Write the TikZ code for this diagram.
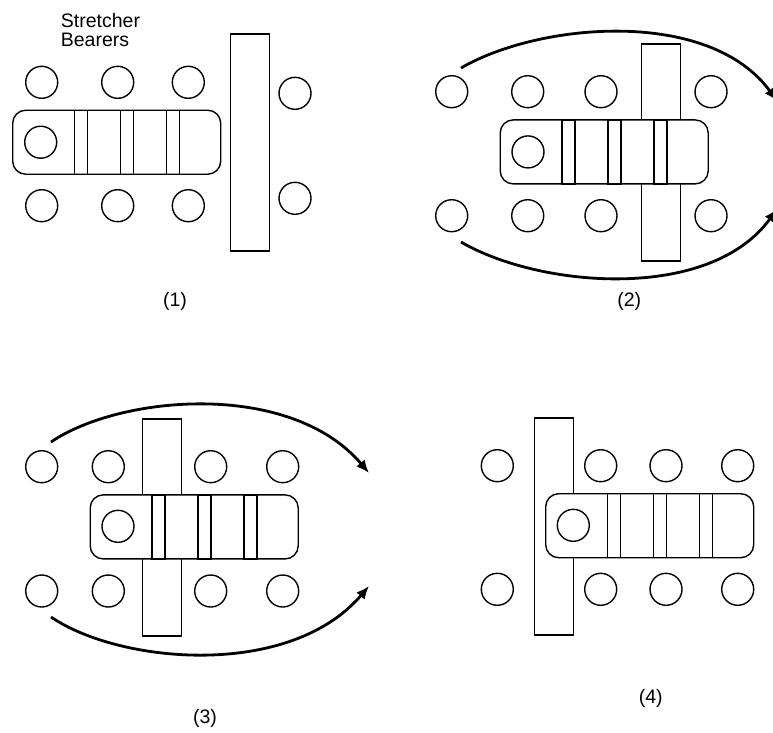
\documentclass[tikz,border=0pt]{standalone}
\usepackage{fontspec}
\setmainfont{Liberation Sans}
\usetikzlibrary{arrows.meta}

\begin{document}
\begin{tikzpicture}[x=1pt,y=-1pt,>=Latex,
  bearer/.style={draw,circle,line width=1.4pt,minimum size=32pt,inner sep=0pt,fill=white},
  litter/.style={draw,rounded corners=13pt,line width=1.4pt,minimum width=208pt,minimum height=64pt,inner sep=0pt,fill=white},
  band/.style={draw,line width=1.4pt,minimum width=13pt,minimum height=64pt,inner sep=0pt},
  board/.style={draw,line width=1.4pt,minimum width=39pt,minimum height=217pt,inner sep=0pt,fill=white},
  caption/.style={font=\fontsize{19.5}{19}\selectfont,inner sep=0pt},
  move/.style={line width=2.8pt,-{Latex[length=13pt,width=11pt]}}]
\clip (0,0) rectangle (773,732);
% (1)
\node[caption,anchor=north west,align=left] (sb) at (60.7,13.3) {Stretcher\\Bearers};
\node[board] (brd1) at (249.7,142.3) {};
\node[litter] (lit1) at (116.7,142.2) {};
\node[bearer] (lit1c) at (40.7,142.2) {};
\node[band] (lit1a) at (81.2,142.2) {};
\node[band] (lit1b) at (127.2,142.2) {};
\node[band] (lit1d) at (173.2,142.2) {};
\node[bearer] (b1t1) at (41.7,82.3) {};
\node[bearer] (b1t2) at (117.7,82.3) {};
\node[bearer] (b1t3) at (188.3,82.3) {};
\node[bearer] (b1b1) at (41.7,205.7) {};
\node[bearer] (b1b2) at (117.7,205.7) {};
\node[bearer] (b1b3) at (188.3,205.7) {};
\node[bearer] (b1r1) at (295,93.3) {};
\node[bearer] (b1r2) at (295,198.3) {};
\node[caption] (cap1) at (175,301.7) {(1)};
% (2)
\node[board] (brd2) at (661,152.3) {};
\node[litter] (lit2) at (604.2,151.9) {};
\node[bearer] (lit2c) at (528,151.9) {};
\node[band] (lit2a) at (568.5,151.9) {};
\node[band] (lit2b) at (614.5,151.9) {};
\node[band] (lit2d) at (660.5,151.9) {};
\node[bearer] (b2t1) at (451.7,91.7) {};
\node[bearer] (b2t2) at (527.7,91.7) {};
\node[bearer] (b2t3) at (601,91.7) {};
\node[bearer] (b2t4) at (711,91.7) {};
\node[bearer] (b2b1) at (451.7,215.7) {};
\node[bearer] (b2b2) at (527.7,215.7) {};
\node[bearer] (b2b3) at (601,215.7) {};
\node[bearer] (b2b4) at (711,215.7) {};
\coordinate (m2ts) at (461,68);
\coordinate (m2te) at (777,101);
\coordinate (m2bs) at (461,242);
\coordinate (m2be) at (777,209);
\draw[move] (m2ts) .. controls (540,22) and (710,8) .. (m2te);
\draw[move] (m2bs) .. controls (540,288) and (710,302) .. (m2be);
\node[caption] (cap2) at (629.3,301.7) {(2)};
% (3)
\node[board] (brd3) at (162,527.3) {};
\node[litter] (lit3) at (194.2,526.9) {};
\node[bearer] (lit3c) at (118,526.3) {};
\node[band] (lit3a) at (158.5,526.9) {};
\node[band] (lit3b) at (204.5,526.9) {};
\node[band] (lit3d) at (250.5,526.9) {};
\node[bearer] (b3t1) at (41.7,466.7) {};
\node[bearer] (b3t2) at (108.3,466.7) {};
\node[bearer] (b3t3) at (210.7,466.7) {};
\node[bearer] (b3t4) at (282.7,466.7) {};
\node[bearer] (b3b1) at (41.7,591) {};
\node[bearer] (b3b2) at (108.3,591) {};
\node[bearer] (b3b3) at (210.7,591) {};
\node[bearer] (b3b4) at (282.7,591) {};
\coordinate (m3ts) at (51,442);
\coordinate (m3te) at (369,473);
\coordinate (m3bs) at (51,617);
\coordinate (m3be) at (369,586);
\draw[move] (m3ts) .. controls (120,395) and (290,380) .. (m3te);
\draw[move] (m3bs) .. controls (120,664) and (290,679) .. (m3be);
\node[caption] (cap3) at (205,718.3) {(3)};
% (4)
\node[board] (brd4) at (553.7,526.3) {};
\node[litter] (lit4) at (649.7,525.7) {};
\node[bearer] (lit4c) at (573.3,525.3) {};
\node[band] (lit4a) at (613.8,525.7) {};
\node[band] (lit4b) at (659.8,525.7) {};
\node[band] (lit4d) at (705.8,525.7) {};
\node[bearer] (b4t1) at (497.3,465.7) {};
\node[bearer] (b4t2) at (600.7,465.7) {};
\node[bearer] (b4t3) at (666,465.7) {};
\node[bearer] (b4t4) at (737.7,465.7) {};
\node[bearer] (b4b1) at (497.3,589.3) {};
\node[bearer] (b4b2) at (600.7,589.3) {};
\node[bearer] (b4b3) at (666,589.3) {};
\node[bearer] (b4b4) at (737.7,589.3) {};
\node[caption] (cap4) at (650.7,698.3) {(4)};
\end{tikzpicture}
\end{document}
